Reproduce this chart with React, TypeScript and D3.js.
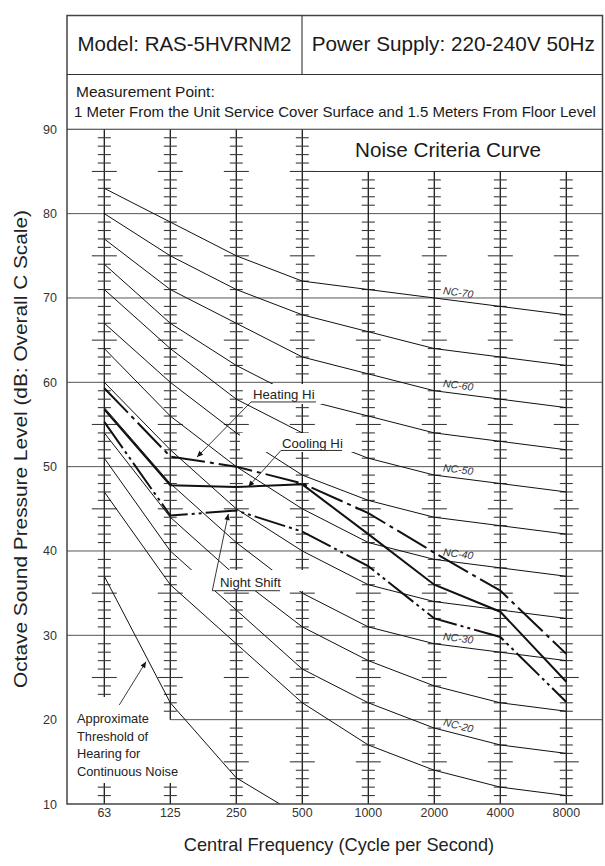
import React from "react";
import * as d3 from "d3";

// ---------- data ----------
const FREQUENCIES = ["63", "125", "250", "500", "1000", "2000", "4000", "8000"];
const Y_TICKS = [10, 20, 30, 40, 50, 60, 70, 80, 90];

const NC_15 = [47, 36, 29, 22, 17, 14, 12, 11];
const NC_20 = [51, 40, 33, 26, 22, 19, 17, 16];
const NC_25 = [54, 44, 37, 31, 27, 24, 22, 21];
const NC_30 = [57, 48, 41, 35, 31, 29, 28, 27];
const NC_35 = [60, 52, 45, 40, 36, 34, 33, 32];
const NC_40 = [64, 56, 50, 45, 41, 39, 38, 37];
const NC_45 = [67, 60, 54, 49, 46, 44, 43, 42];
const NC_50 = [71, 64, 58, 54, 51, 49, 48, 47];
const NC_55 = [74, 67, 62, 58, 56, 54, 53, 52];
const NC_60 = [77, 71, 67, 63, 61, 59, 58, 57];
const NC_65 = [80, 75, 71, 68, 66, 64, 63, 62];
const NC_70 = [83, 79, 75, 72, 71, 70, 69, 68];
const NC_NAMES = ["NC-15", "NC-20", "NC-25", "NC-30", "NC-35", "NC-40", "NC-45", "NC-50", "NC-55", "NC-60", "NC-65", "NC-70"];
const NC_CURVES = [NC_15, NC_20, NC_25, NC_30, NC_35, NC_40, NC_45, NC_50, NC_55, NC_60, NC_65, NC_70];
const NC_LABELED = ["NC-20", "NC-30", "NC-40", "NC-50", "NC-60", "NC-70"];

const HEATING_HI = [59.3, 51.2, 50.0, 48.0, 44.5, 39.8, 35.3, 27.8];
const COOLING_HI = [56.8, 47.8, 47.6, 47.9, 42.0, 36.0, 32.8, 24.5];
const NIGHT_SHIFT = [55.3, 44.2, 44.8, 42.3, 38.2, 32.0, 29.8, 22.1];
const THRESHOLD = [37, 22, 13.1, 8.4];

// ---------- layout ----------
const W = 605, H = 866;
const FL = 67, FR = 602.5, FT = 15.5, FB = 804, HDIV = 74.5, COLDIV = 302;
const FONT = "'Liberation Sans', Arial, Helvetica, sans-serif";

const xi = d3.scaleLinear().domain([0, 7]).range([104.3, 566.3]);
const y = d3.scaleLinear().domain([10, 90]).range([FB, 129.3]);
const xp = (f: string) => xi(FREQUENCIES.indexOf(f));

const line = d3.line<number>().x((_, i) => xi(i)).y((d) => y(d));

// label masks in data space [idx0, idx1, dbTop, dbBottom]
const MASKS = [
  [2.19, 3.30, 59.8, 57.43],
  [2.055, 3.83, 53.99, 51.74],
  [1.30, 3.117, 37.75, 35.26],
];

type Annot = { text: string; tx: number; ty: number; u0: number; u1: number; uy: number; tipX: number; tipY: number };
const ANNOTS: Annot[] = [
  { text: "Heating Hi", tx: 2.253, ty: 58.02, u0: 2.223, u1: 3.208, uy: 57.67, tipX: 1.405, tipY: 51.14 },
  { text: "Cooling Hi", tx: 2.692, ty: 52.18, u0: 2.677, u1: 3.602, uy: 51.92, tipX: 2.182, tipY: 47.62 },
  { text: "Night Shift", tx: 1.753, ty: 35.70, u0: 1.636, u1: 2.662, uy: 35.29, tipX: 1.879, tipY: 44.39 },
];

const THRESH_LINES = ["Approximate", "Threshold of", "Hearing for", "Continuous Noise"];

export default function App() {
  // verticals with ticks
  const verticals: JSX.Element[] = [];
  FREQUENCIES.forEach((f, i) => {
    const x = xi(i);
    const top = i <= 3 ? 90 : 85;
    let segs: number[][];
    let skip: (v: number) => boolean = () => false;
    if (i === 0) { segs = [[90, 22.7], [12.5, 10]]; skip = (v) => v >= 13 && v <= 22; }
    else if (i === 1) { segs = [[90, 20], [12.5, 10]]; skip = (v) => v >= 13 && v <= 20; }
    else segs = [[top, 10]];
    segs.forEach((s, k) => (
      verticals.push(<line key={`v${i}-${k}`} x1={x} x2={x} y1={y(s[0])} y2={y(s[1])} stroke="#1a1a1a" strokeWidth={1.3} />)
    ));
    for (let v = top - 1; v >= 11; v--) {
      if (v % 10 === 0 || skip(v)) continue;
      const hw = v % 5 === 0 ? 12.5 : 6.5;
      verticals.push(<line key={`t${i}-${v}`} x1={x - hw} x2={x + hw} y1={y(v)} y2={y(v)} stroke="#3a3a3a" strokeWidth={1.1} />);
    }
  });

  const grid = Y_TICKS.filter((v) => v > 10 && v < 90).map((v) => (
    <line key={`g${v}`} x1={v === 20 ? xi(1) : FL} x2={FR} y1={y(v)} y2={y(v)} stroke="#555" strokeWidth={1} />
  ));

  return (
    <svg width={W} height={H} viewBox={`0 0 ${W} ${H}`} style={{ position: "absolute", left: 0, top: 0, background: "#fff" }} fontFamily={FONT}>
      <defs>
        <clipPath id="plotClip"><rect x={FL} y={y(90)} width={FR - FL} height={FB - y(90)} /></clipPath>
        <marker id="arr" viewBox="0 0 10 10" refX="10" refY="5" markerWidth="9" markerHeight="6" markerUnits="userSpaceOnUse" orient="auto">
          <path d="M0,0.5 L10,5 L0,9.5 z" fill="#111" />
        </marker>
      </defs>
      <rect x={0} y={0} width={W} height={H} fill="#fff" />

      {grid}
      {/* Noise criteria box bottom */}
      <line x1={xp("500")} x2={FR} y1={y(85)} y2={y(85)} stroke="#333" strokeWidth={1.1} />
      {verticals}

      {/* NC curves */}
      <g fill="none" stroke="#111" strokeWidth={1}>
        {NC_CURVES.map((c, k) => <path key={NC_NAMES[k]} d={line(c) || ""} />)}
      </g>
      <g clipPath="url(#plotClip)">
        <path d={line(THRESHOLD) || ""} fill="none" stroke="#111" strokeWidth={1} />
      </g>

      {/* masks behind labels */}
      {MASKS.map((m, k) => (
        <rect key={`m${k}`} x={xi(m[0])} y={y(m[2])} width={xi(m[1]) - xi(m[0])} height={y(m[3]) - y(m[2])} fill="#fff" />
      ))}

      {/* measured data */}
      <g fill="none" stroke="#111" strokeWidth={2}>
        <path d={line(HEATING_HI) || ""} strokeDasharray="34,5,4,5" />
        <path d={line(COOLING_HI) || ""} />
        <path d={line(NIGHT_SHIFT) || ""} strokeDasharray="32,4,3,4,3,4" />
      </g>

      {/* annotations */}
      {ANNOTS.map((a) => (
        <g key={a.text}>
          <text x={xi(a.tx)} y={y(a.ty)} fontSize={13.2} fill="#222">{a.text}</text>
          <line x1={xi(a.u0)} x2={xi(a.u1)} y1={y(a.uy)} y2={y(a.uy)} stroke="#333" strokeWidth={1} />
          <line x1={xi(a.u0)} y1={y(a.uy)} x2={xi(a.tipX)} y2={y(a.tipY)} stroke="#222" strokeWidth={0.9} markerEnd="url(#arr)" />
        </g>
      ))}

      {/* threshold label */}
      {THRESH_LINES.map((t, k) => (
        <text key={t} x={77} y={723 + k * 17.7} fontSize={12.8} fill="#222">{t}</text>
      ))}
      <line x1={xi(0.227)} y1={y(21.74)} x2={xi(0.632)} y2={y(26.87)} stroke="#222" strokeWidth={0.9} markerEnd="url(#arr)" />

      {/* NC labels */}
      {NC_LABELED.map((name) => {
        const c = NC_CURVES[NC_NAMES.indexOf(name)];
        const x0 = xi(5) + 8.5;
        const y5 = y(c[5]), y6 = y(c[6]);
        const dx = xi(6) - xi(5);
        const yy = y5 + (y6 - y5) * (8.5 / dx) - 5;
        const ang = (Math.atan2(y6 - y5, dx) * 180) / Math.PI;
        return (
          <text key={name} x={x0} y={yy} fontSize={10.5} fontStyle="italic" fill="#333" transform={`rotate(${ang},${x0},${yy})`}>{name}</text>
        );
      })}

      {/* frame and header */}
      <rect x={FL} y={FT} width={FR - FL} height={FB - FT} fill="none" stroke="#444" strokeWidth={1.5} />
      <line x1={FL} x2={FR} y1={HDIV} y2={HDIV} stroke="#333" strokeWidth={1.1} />
      <line x1={FL} x2={FR} y1={y(90)} y2={y(90)} stroke="#333" strokeWidth={1.1} />
      <line x1={COLDIV} x2={COLDIV} y1={FT} y2={HDIV} stroke="#333" strokeWidth={1.1} />
      <text x={(FL + COLDIV) / 2} y={50.5} fontSize={21} textAnchor="middle" textLength={214} lengthAdjust="spacingAndGlyphs" fill="#1a1a1a">Model: RAS-5HVRNM2</text>
      <text x={(COLDIV + FR) / 2 + 1} y={50.5} fontSize={21} textAnchor="middle" textLength={283} lengthAdjust="spacingAndGlyphs" fill="#1a1a1a">Power Supply: 220-240V 50Hz</text>
      <text x={76} y={97} fontSize={15.5} fill="#1a1a1a">Measurement Point:</text>
      <text x={74} y={116.5} fontSize={15} fill="#1a1a1a">1 Meter From the Unit Service Cover Surface and 1.5 Meters From Floor Level</text>
      <text x={355} y={156.5} fontSize={19.5} textLength={186} lengthAdjust="spacingAndGlyphs" fill="#1a1a1a">Noise Criteria Curve</text>

      {/* axes labels */}
      {Y_TICKS.map((v) => (
        <text key={`yl${v}`} x={57} y={y(v) + 4.5} fontSize={12.5} textAnchor="end" fill="#333">{v}</text>
      ))}
      {FREQUENCIES.map((f) => (
        <text key={`xl${f}`} x={xp(f)} y={816.7} fontSize={12.4} textAnchor="middle" fill="#333">{f}</text>
      ))}
      <text x={339} y={851} fontSize={18.2} textAnchor="middle" fill="#222">Central Frequency (Cycle per Second)</text>
      <text x={27} y={449} fontSize={19} textAnchor="middle" textLength={478} lengthAdjust="spacingAndGlyphs" fill="#222" transform="rotate(-90,27,449)">Octave Sound Pressure Level (dB: Overall C Scale)</text>
    </svg>
  );
}
